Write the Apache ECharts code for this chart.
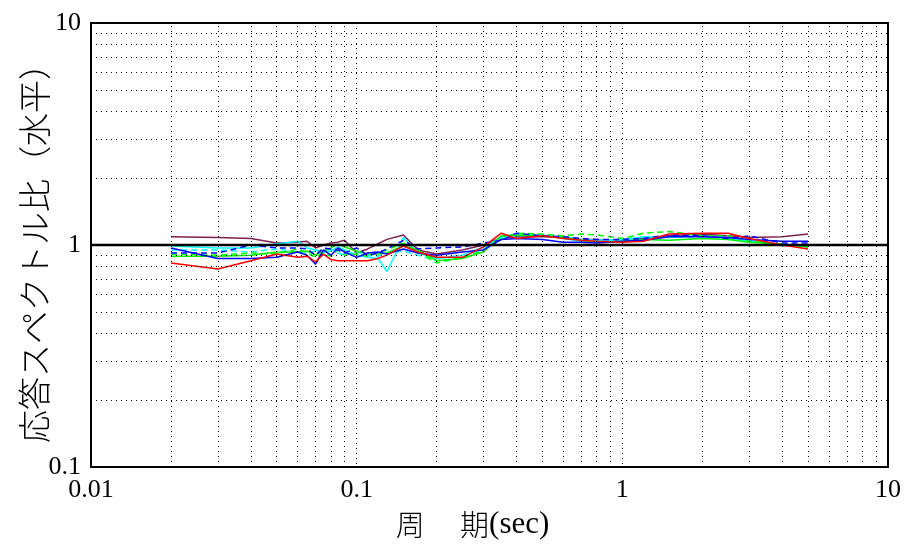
<!DOCTYPE html>
<html>
<head>
<meta charset="utf-8">
<script src="https://cdn.jsdelivr.net/npm/echarts@6/dist/echarts.min.js"></script>
<style>
  html, body { margin: 0; padding: 0; background: #fff; }
  #chart { width: 914px; height: 549px; }
</style>
</head>
<body>
<div id="chart"></div>
<script>
// 周期 (sec)
const periods = [0.02, 0.03, 0.04, 0.05, 0.06, 0.065, 0.07, 0.075, 0.08, 0.085, 0.09, 0.1, 0.11, 0.12, 0.13, 0.15, 0.17, 0.2, 0.25, 0.3, 0.35, 0.4, 0.5, 0.6, 0.7, 0.8, 1.0, 1.2, 1.5, 2, 2.5, 3, 4, 5];

// 応答スペクトル比 (各観測点)
const maroon = [1.09, 1.08, 1.07, 1.02, 1.03, 1.04, 0.97, 1.00, 1.02, 1.03, 1.05, 0.92, 0.96, 1.01, 1.06, 1.11, 0.95, 0.91, 0.95, 1.00, 1.08, 1.09, 1.09, 1.08, 1.06, 1.06, 1.05, 1.07, 1.10, 1.12, 1.10, 1.08, 1.09, 1.12];
const red = [0.83, 0.78, 0.85, 0.91, 0.88, 0.89, 0.84, 0.91, 0.86, 0.85, 0.85, 0.85, 0.85, 0.87, 0.90, 0.99, 0.93, 0.88, 0.88, 0.98, 1.13, 1.07, 1.10, 1.07, 1.05, 1.04, 1.03, 1.04, 1.12, 1.13, 1.13, 1.07, 1.00, 0.96];
const blue = [0.97, 0.87, 0.87, 0.88, 0.93, 0.90, 0.82, 0.95, 0.90, 0.97, 0.93, 0.88, 0.92, 0.93, 0.91, 0.96, 0.92, 0.90, 0.93, 0.95, 1.06, 1.07, 1.06, 1.03, 1.03, 1.02, 1.04, 1.05, 1.09, 1.09, 1.08, 1.06, 1.04, 1.04];
const blueDash = [0.92, 0.92, 1.00, 0.97, 0.97, 0.96, 0.90, 0.97, 0.96, 0.95, 0.92, 0.97, 0.90, 0.92, 0.96, 1.05, 0.96, 0.97, 0.98, 1.02, 1.05, 1.13, 1.10, 1.09, 1.07, 1.06, 1.06, 1.07, 1.11, 1.10, 1.07, 1.10, 1.02, 1.02];
const cyan = [0.99, 0.97, 0.97, 1.01, 1.04, 0.97, 0.95, 0.93, 0.94, 0.98, 0.95, 0.90, 0.88, 0.87, 0.76, 1.08, 0.92, 0.87, 0.90, 0.98, 1.08, 1.10, 1.11, 1.07, 1.04, 1.05, 1.06, 1.09, 1.08, 1.10, 1.07, 1.04, 1.00, 1.00];
const cyanDash = [0.95, 0.95, 0.93, 0.96, 0.93, 0.91, 0.94, 0.92, 0.96, 0.92, 0.90, 0.93, 0.90, 0.89, 0.92, 0.94, 0.90, 0.85, 0.88, 0.96, 1.09, 1.12, 1.11, 1.09, 1.06, 1.05, 1.05, 1.06, 1.09, 1.09, 1.09, 1.05, 1.00, 1.00];
const green = [0.89, 0.89, 0.90, 0.93, 0.93, 0.94, 0.90, 0.94, 0.97, 1.01, 0.98, 0.94, 0.91, 0.91, 0.92, 0.99, 0.95, 0.85, 0.87, 0.93, 1.10, 1.11, 1.10, 1.08, 1.05, 1.03, 1.04, 1.06, 1.05, 1.07, 1.06, 1.03, 1.01, 0.98];
const greenDash = [0.91, 0.90, 0.92, 0.91, 0.96, 0.92, 0.88, 0.92, 0.89, 0.95, 0.90, 0.91, 0.89, 0.92, 0.95, 1.02, 0.93, 0.83, 0.88, 0.94, 1.06, 1.13, 1.12, 1.10, 1.12, 1.11, 1.07, 1.13, 1.15, 1.10, 1.10, 1.04, 1.01, 0.98];

// 補助目盛 (対数)
const minorX = [0.02, 0.03, 0.04, 0.05, 0.06, 0.07, 0.08, 0.09, 0.2, 0.3, 0.4, 0.5, 0.6, 0.7, 0.8, 0.9, 2, 3, 4, 5, 6, 7, 8, 9];
const minorY = [0.2, 0.3, 0.4, 0.5, 0.6, 0.7, 0.8, 0.9, 2, 3, 4, 5, 6, 7, 8, 9];
const refLine = [[0.01, 1], [10, 1]];

const chart = echarts.init(document.getElementById('chart'));

const dotted = { color: '#000', width: 1, type: [1, 4] };
const font = "'Liberation Serif', serif";
const cjk = "'Noto Sans CJK JP', sans-serif";

function pair(vals) {
  return periods.map((p, i) => [p, vals[i]]);
}

function mk(name, vals, color, dashed) {
  return {
    name: name,
    type: 'line',
    data: pair(vals),
    showSymbol: false,
    symbol: 'none',
    lineStyle: { color: color, width: 1.5, type: dashed ? [6, 4] : 'solid' },
    z: 3
  };
}

const option = {
  animation: false,
  backgroundColor: '#fff',
  grid: {
    left: 91, right: 26, top: 23, bottom: 82,
    outerBoundsMode: 'none',
    show: true, borderColor: '#000', borderWidth: 2
  },
  xAxis: {
    type: 'log', logBase: 10, min: 0.01, max: 10,
    name: '{c|周\u3000 期}{l|(sec)}', nameLocation: 'middle', nameGap: 42,
    nameTextStyle: {
      padding: [0, 34, 0, 0],
      rich: {
        c: { fontFamily: cjk, fontSize: 29, fontWeight: 300, color: '#000', lineHeight: 32 },
        l: { fontFamily: font, fontSize: 31, color: '#000', lineHeight: 32 }
      }
    },
    axisLine: { show: false },
    axisTick: { show: false },
    axisLabel: {
      fontFamily: font, fontSize: 26, color: '#000', margin: 10,
      formatter: v => String(Number(v.toPrecision(3)))
    },
    splitLine: { show: true, lineStyle: dotted }
  },
  yAxis: {
    type: 'log', logBase: 10, min: 0.1, max: 10,
    name: '応答スペクトル比（水平）', nameLocation: 'middle', nameGap: 40, nameRotate: 90,
    nameMoveOverlap: false,
    nameTextStyle: { fontFamily: cjk, fontSize: 33, color: '#000', fontWeight: 300 },
    axisLine: { show: false },
    axisTick: { show: false },
    axisLabel: {
      fontFamily: font, fontSize: 26, color: '#000', margin: 10,
      formatter: v => String(Number(v.toPrecision(3)))
    },
    splitLine: { show: true, lineStyle: dotted }
  },
  series: [
    {
      name: 'grid',
      type: 'line',
      data: refLine,
      symbol: 'none',
      lineStyle: { color: '#000', width: 2.5 },
      silent: true,
      z: 5,
      markLine: {
        silent: true,
        symbol: ['none', 'none'],
        label: { show: false },
        lineStyle: dotted,
        emphasis: { disabled: true },
        data: minorX.map(v => ({ xAxis: v })).concat(minorY.map(v => ({ yAxis: v })))
      }
    },
    mk('maroon', maroon, '#7f1f50', false),
    mk('cyanDash', cyanDash, '#00ffff', true),
    mk('cyan', cyan, '#00ffff', false),
    mk('greenDash', greenDash, '#00ff00', true),
    mk('green', green, '#00ee00', false),
    mk('blueDash', blueDash, '#0000ff', true),
    mk('blue', blue, '#0000ff', false),
    mk('red', red, '#ff0000', false)
  ]
};

chart.setOption(option);
</script>
</body>
</html>
